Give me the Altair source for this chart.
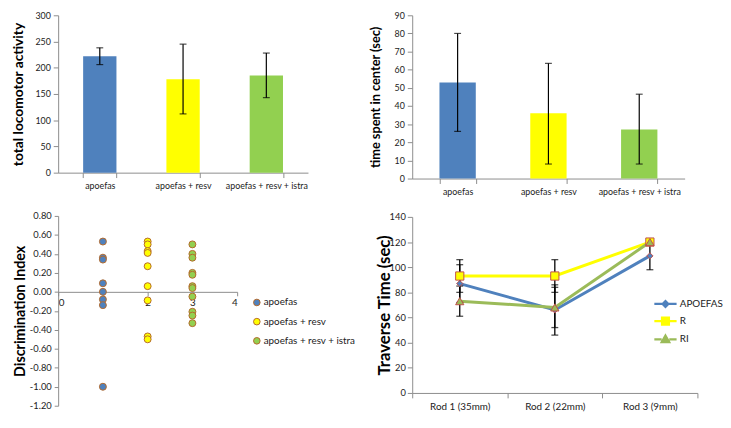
import altair as alt
import pandas as pd

FONT = "Lato"

# ---------------- data ----------------
groups = ["apoefas", "apoefas + resv", "apoefas + resv + istra"]
bar_colors = ["#4F81BD", "#FFFF00", "#92D050"]

loco_mean = [222, 178, 185]
loco_lo = [206, 112, 143]
loco_hi = [238, 245, 228]

center_mean = [53, 36, 27]
center_lo = [26, 8, 8]
center_hi = [80, 63.5, 46.5]

di_x = [1, 2, 3]
di_apoefas = [0.53, 0.36, 0.34, 0.09, 0.00, -0.08, -0.14, -1.00]
di_resv = [0.53, 0.50, 0.43, 0.41, 0.27, 0.06, -0.09, -0.47, -0.50]
di_istra = [0.50, 0.40, 0.36, 0.20, 0.18, 0.06, 0.04, -0.05, -0.21, -0.25, -0.33]
di_ticks = [-1.2, -1.0, -0.8, -0.6, -0.4, -0.2, 0.0, 0.2, 0.4, 0.6, 0.8]
di_xticks = [0, 1, 2, 3, 4]

rods = ["Rod 1 (35mm)", "Rod 2 (22mm)", "Rod 3 (9mm)"]
series = ["APOEFAS", "R", "RI"]
line_colors = ["#4F81BD", "#FFFF00", "#9BBB59"]
shapes = ["diamond", "square", "triangle-up"]
marker_sizes = [40, 70, 70]
apo_mean = [87, 66, 109]
apo_lo = [72, 46, 98]
apo_hi = [102, 86, 120]
r_mean = [93, 93, 120]
r_lo = [80, 80, 120]
r_hi = [106, 106, 120]
ri_mean = [73, 68, 120]
ri_lo = [61, 52, 120]
ri_hi = [85, 84, 120]

# legend symbols: short line with the series marker in the middle
legend_paths = [
    "M-1.6,0H-0.42M0.42,0H1.6M0,-0.42L0.42,0L0,0.42L-0.42,0Z",
    "M-1.6,0H-0.5M0.5,0H1.6M-0.5,-0.5H0.5V0.5H-0.5Z",
    "M-1.6,0H-0.55M0.55,0H1.6M0,-0.55L0.55,0.42L-0.55,0.42Z",
]

AXIS_GRAY = "#8C8C8C"
SCATTER_STROKE = "#B5692A"
MARKER_STROKE = "#C0504D"


def bar_panel(mean, lo, hi, title, ymax, step, w, h, title_pad, title_size):
    df = pd.DataFrame({"group": groups, "mean": mean, "lo": lo, "hi": hi})
    x = alt.X("group:N", sort=groups,
              scale=alt.Scale(type="band", paddingInner=0.6, paddingOuter=0.3),
              axis=alt.Axis(title=None, labelAngle=0, tickBand="extent",
                            labelFontSize=9, tickSize=5, labelPadding=4))
    yscale = alt.Scale(domain=[0, ymax], nice=False)
    yaxis = alt.Axis(title=title, values=list(range(0, ymax + 1, step)),
                     labelFontSize=9, tickSize=5, labelPadding=3,
                     titleFontSize=title_size, titleFontWeight="bold",
                     titlePadding=title_pad)

    def Y(f):
        return alt.Y(f + ":Q", scale=yscale, axis=yaxis)

    base = alt.Chart(df)
    bars = base.mark_bar().encode(
        x=x, y=Y("mean"),
        color=alt.Color("group:N", scale=alt.Scale(domain=groups, range=bar_colors), legend=None))
    rule = base.mark_rule(color="black", strokeWidth=1.2).encode(x=x, y=Y("lo"), y2="hi:Q")
    cap_lo = base.mark_tick(color="black", size=7, thickness=1.2).encode(x=x, y=Y("lo"))
    cap_hi = base.mark_tick(color="black", size=7, thickness=1.2).encode(x=x, y=Y("hi"))
    return alt.layer(bars, rule, cap_lo, cap_hi).properties(width=w, height=h)


A = bar_panel(loco_mean, loco_lo, loco_hi, "total locomotor activity", 300, 50, 254, 160, 10, 14)
B = bar_panel(center_mean, center_lo, center_hi, "time spent in center (sec)", 90, 10, 277, 166, 12, 13)

# ---------------- scatter ----------------
rows = []
for g, xv, vals in zip(groups, di_x, [di_apoefas, di_resv, di_istra]):
    for v in vals:
        rows.append({"group": g, "x": xv, "y": v})
df_c = pd.DataFrame(rows)
HC = 193
C = alt.Chart(df_c).mark_point(filled=True, size=50, stroke=SCATTER_STROKE,
                               strokeWidth=1, opacity=1).encode(
    x=alt.X("x:Q", scale=alt.Scale(domain=[0, 4], nice=False),
            axis=alt.Axis(title=None, values=di_xticks, format="d", offset=-HC * 0.6,
                          labelFontSize=10, tickSize=4, labelPadding=2)),
    y=alt.Y("y:Q", scale=alt.Scale(domain=[-1.2, 0.8], nice=False),
            axis=alt.Axis(title="Discrimination Index", values=di_ticks,
                          labelExpr="replace(format(datum.value, '.2f'), '\u2212', '-')",
                          labelFontSize=9.5, tickSize=4, labelPadding=3,
                          titleFontSize=14.5, titleFontWeight="bold", titlePadding=2)),
    fill=alt.Fill("group:N", scale=alt.Scale(domain=groups, range=bar_colors),
                  legend=alt.Legend(title=None, orient="none", legendX=197, legendY=83,
                                    symbolType="circle", symbolSize=45,
                                    symbolStrokeColor=SCATTER_STROKE, symbolStrokeWidth=1,
                                    labelFontSize=10, labelOffset=2, rowPadding=7.5,
                                    labelFont=FONT, labelColor="#222")),
).properties(width=182, height=HC)

# ---------------- line chart ----------------
rows = []
for s, m, l, hh in zip(series, [apo_mean, r_mean, ri_mean], [apo_lo, r_lo, ri_lo], [apo_hi, r_hi, ri_hi]):
    for rod, mv, lv, hv in zip(rods, m, l, hh):
        rows.append({"rod": rod, "series": s, "mean": mv, "lo": lv, "hi": hv})
df_d = pd.DataFrame(rows)

xd = alt.X("rod:N", sort=rods,
           scale=alt.Scale(type="band", paddingInner=0, paddingOuter=0),
           axis=alt.Axis(title=None, labelAngle=0, tickBand="extent",
                         labelFontSize=10, tickSize=5, labelPadding=4))
yd_scale = alt.Scale(domain=[0, 140], nice=False)
yd_axis = alt.Axis(title="Traverse Time (sec)", values=list(range(0, 141, 20)),
                   labelFontSize=9.5, tickSize=5, labelPadding=2,
                   titleFontSize=17, titleFontWeight="bold", titlePadding=-4)


def YD(f):
    return alt.Y(f + ":Q", scale=yd_scale, axis=yd_axis)


d_legend = alt.Legend(title=None, orient="none", legendX=249, legendY=80,
                      symbolSize=200, symbolStrokeWidth=2.2, labelFontSize=10,
                      labelOffset=6, rowPadding=1.5, labelFont=FONT, labelColor="#222")
color_d = alt.Color("series:N", scale=alt.Scale(domain=series, range=line_colors), legend=d_legend)

base_d = alt.Chart(df_d)
lines = base_d.mark_line(strokeWidth=3).encode(x=xd, y=YD("mean"), color=color_d)
err = base_d.mark_rule(color="black", strokeWidth=1.3).encode(
    x=xd, y=YD("lo"), y2="hi:Q", detail="series:N")
cap_lo = base_d.mark_tick(color="black", size=7, thickness=1.3).encode(x=xd, y=YD("lo"), detail="series:N")
cap_hi = base_d.mark_tick(color="black", size=7, thickness=1.3).encode(x=xd, y=YD("hi"), detail="series:N")

pt_layers = []
for s, col, shp, sz in zip(series, line_colors, shapes, marker_sizes):
    pt_layers.append(
        base_d.transform_filter(alt.datum.series == s).mark_point(
            filled=True, shape=shp, size=sz, fill=col, stroke=MARKER_STROKE,
            strokeWidth=1, opacity=1).encode(x=xd, y=YD("mean"))
    )

# legend-only layer (no rows drawn): gives the legend its line + marker symbols
legend_layer = base_d.transform_filter("datum.mean < 0").mark_point(filled=True, opacity=1).encode(
    x=xd, y=YD("mean"), color=color_d,
    fill=alt.Fill("series:N", scale=alt.Scale(domain=series, range=line_colors), legend=d_legend),
    shape=alt.Shape("series:N", scale=alt.Scale(domain=series, range=legend_paths), legend=d_legend),
)
D = alt.layer(lines, err, cap_lo, cap_hi, *pt_layers, legend_layer).properties(width=290, height=179)

IND = dict(color="independent", fill="independent", shape="independent")

col1 = alt.vconcat(A, C, spacing=21).resolve_scale(**IND).resolve_legend(**IND)
col2 = alt.vconcat(B, D, spacing=16).resolve_scale(**IND).resolve_legend(**IND)

chart = alt.hconcat(col1, col2, spacing=13).resolve_scale(**IND).resolve_legend(**IND).properties(
    padding={"left": 3, "top": 0, "right": 0, "bottom": 0}
).configure_axis(
    labelFont=FONT, titleFont=FONT, labelColor="#222", titleColor="#000",
    domainColor=AXIS_GRAY, tickColor=AXIS_GRAY, grid=False,
).configure_view(strokeWidth=0)

chart.save("out.html", embed_options={"renderer": "svg", "actions": False})
